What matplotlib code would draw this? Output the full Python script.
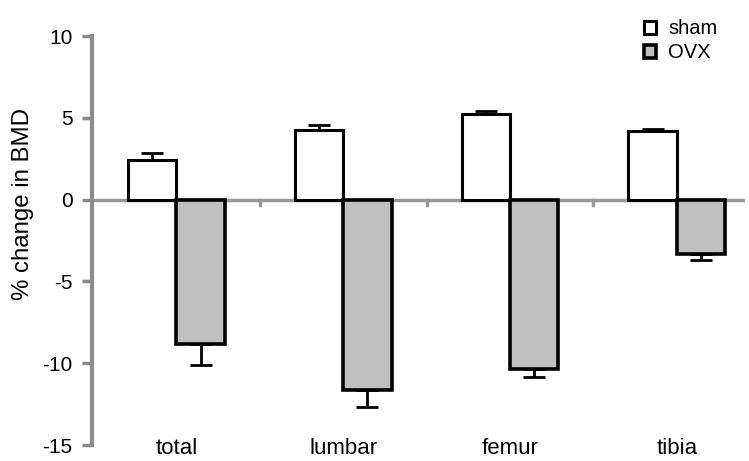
import numpy as np
import matplotlib.pyplot as plt

plt.rcParams['font.family'] = ['Liberation Sans', 'DejaVu Sans']

categories = ['total', 'lumbar', 'femur', 'tibia']
sham = [2.45, 4.25, 5.25, 4.18]
sham_err = [0.4, 0.3, 0.2, 0.17]
ovx = [-8.8, -11.65, -10.38, -3.3]
ovx_err = [1.3, 1.05, 0.49, 0.37]

fig = plt.figure(figsize=(7.49, 4.61), dpi=100)
ax = fig.add_axes([0.123, 0.0347, 0.872, 0.887])

x = np.arange(len(categories))
w = 0.29
gray = '#8c8c8c'

ax.bar(x - w / 2, sham, w, color='white', edgecolor='black', linewidth=2.2,
       yerr=[np.zeros(4), sham_err], capsize=8,
       error_kw=dict(elinewidth=2, capthick=2, ecolor='black'), zorder=3,
       label='sham')
ax.bar(x + w / 2, ovx, w, color='#c0c0c0', edgecolor='black', linewidth=2.6,
       yerr=[ovx_err, np.zeros(4)], capsize=8,
       error_kw=dict(elinewidth=2, capthick=2, ecolor='black'), zorder=3,
       label='OVX')

# zero line and small separators between groups
ax.axhline(0, color='#999999', lw=2.5, zorder=2)
for s in x[:-1] + 0.5:
    ax.plot([s, s], [0, -0.35], color='#999999', lw=2.5, zorder=2, clip_on=False)

ax.set_xlim(-0.505, 3.41)
ax.set_ylim(-15, 10)
ax.set_yticks([-15, -10, -5, 0, 5, 10])
ax.set_yticklabels(['-15', '-10', '-5', '0', '5', '10'])
ax.tick_params(axis='y', colors=gray, labelcolor='black', labelsize=15,
               length=7, width=2.5, pad=7)
ax.set_xticks([])

for sp in ['top', 'right', 'bottom']:
    ax.spines[sp].set_visible(False)
ax.spines['left'].set_color(gray)
ax.spines['left'].set_linewidth(3)

ax.set_ylabel('% change in BMD', fontsize=17.3, va='center')
ax.yaxis.set_label_coords(-0.106, 0.59)

for i, c in enumerate(categories):
    ax.text(i, -15.2, c, ha='center', va='center', fontsize=16, clip_on=False)

leg = ax.legend(loc='upper right', bbox_to_anchor=(0.985, 1.085), frameon=False,
                fontsize=14.5, handlelength=0.6, handleheight=0.6,
                handletextpad=0.6, labelspacing=0.25)

fig.savefig('out.png', dpi=100)
